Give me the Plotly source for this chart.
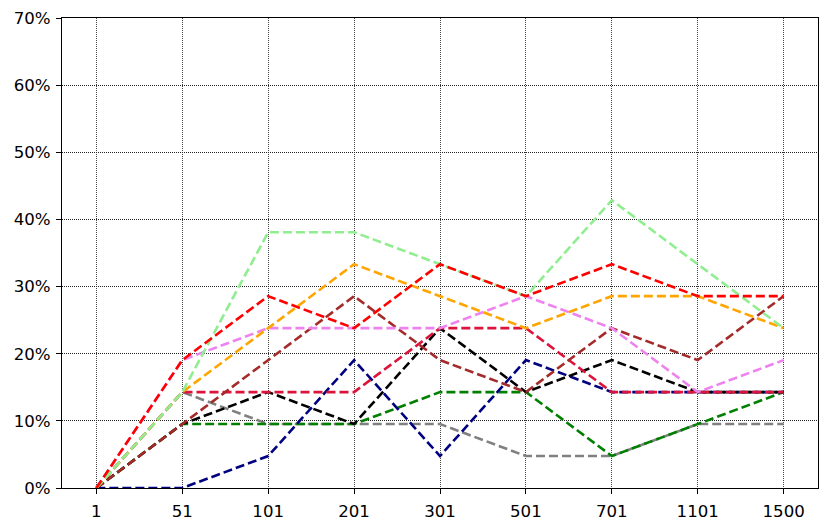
import plotly.graph_objects as go

categories = ["1", "51", "101", "201", "301", "501", "701", "1101", "1500"]

gray = [0, 3/21, 2/21, 2/21, 2/21, 1/21, 1/21, 2/21, 2/21]
green = [0, 2/21, 2/21, 2/21, 3/21, 3/21, 1/21, 2/21, 3/21]
navy = [0, 0, 1/21, 4/21, 1/21, 4/21, 3/21, 3/21, 3/21]
black = [0, 2/21, 3/21, 2/21, 5/21, 3/21, 4/21, 3/21, 3/21]
crimson = [0, 3/21, 3/21, 3/21, 5/21, 5/21, 3/21, 3/21, 3/21]
brown = [0, 2/21, 4/21, 6/21, 4/21, 3/21, 5/21, 4/21, 6/21]
violet = [0, 4/21, 5/21, 5/21, 5/21, 6/21, 5/21, 3/21, 4/21]
orange = [0, 3/21, 5/21, 7/21, 6/21, 5/21, 6/21, 6/21, 5/21]
lightgreen = [0, 3/21, 8/21, 8/21, 7/21, 6/21, 9/21, 7/21, 5/21]
red = [0, 4/21, 6/21, 5/21, 7/21, 6/21, 7/21, 6/21, 6/21]

series = [
    ("gray", gray, "#808080"),
    ("green", green, "#008000"),
    ("navy", navy, "#000080"),
    ("black", black, "#000000"),
    ("crimson", crimson, "#DC143C"),
    ("brown", brown, "#A52A2A"),
    ("violet", violet, "#EE82EE"),
    ("orange", orange, "#FFA500"),
    ("lightgreen", lightgreen, "#90EE90"),
    ("red", red, "#FF0000"),
]

fig = go.Figure()
for name, vals, col in series:
    fig.add_trace(go.Scatter(
        x=categories, y=vals, mode="lines", name=name,
        line=dict(color=col, width=2.6, dash="9px,4px"),
        showlegend=False,
    ))

# page body has an 8px default margin, so the figure is sized to fit
fig.update_layout(
    width=823, height=521,
    margin=dict(l=54, r=13, t=10, b=41),
    plot_bgcolor="white", paper_bgcolor="white",
    font=dict(family="DejaVu Sans", size=16.6, color="black"),
)
fig.update_xaxes(
    type="category", range=[-0.4, 8.4], automargin=False,
    showline=True, linecolor="black", linewidth=1.3, mirror=True,
    ticks="outside", ticklen=5, tickcolor="black", tickwidth=1.2,
    ticklabelstandoff=3,
    showgrid=True, gridcolor="#444444", gridwidth=0.8, griddash="1px,1px",
    zeroline=False,
)
fig.update_yaxes(
    range=[0, 0.7], dtick=0.1, tickformat=".0%", automargin=False,
    showline=True, linecolor="black", linewidth=1.3, mirror=True,
    ticks="outside", ticklen=5, tickcolor="black", tickwidth=1.2,
    ticklabelstandoff=2,
    showgrid=True, gridcolor="#222222", gridwidth=0.8, griddash="1px,1px",
    zeroline=False,
)

fig.write_html("out.html")
